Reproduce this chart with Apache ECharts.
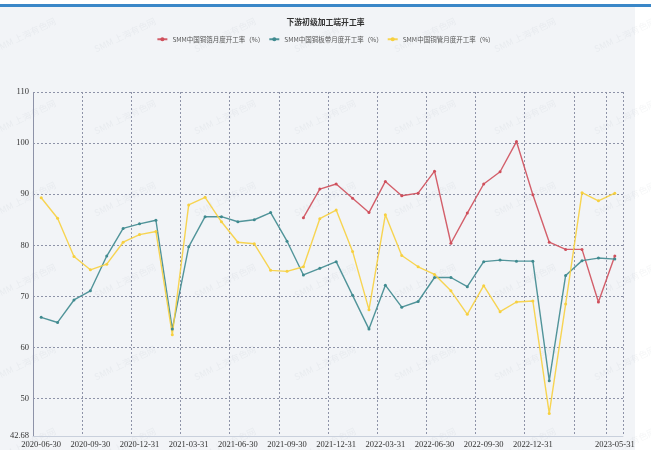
<!DOCTYPE html>
<html>
<head>
<meta charset="utf-8">
<script src="https://cdn.jsdelivr.net/npm/echarts@6/dist/echarts.min.js"></script>
<style>
  html, body { margin: 0; padding: 0; background: #ffffff; }
  #panel { position: absolute; left: 0; top: 7px; width: 635px; height: 443px; background: #f2f4f7; }
  #bar { position: absolute; left: 0; top: 4px; width: 651px; height: 3px; background: #3a87c8; }
  #chart { position: absolute; left: 0; top: 0; width: 651px; height: 450px; }
</style>
</head>
<body>
<div id="panel"></div>
<div id="bar"></div>
<div id="chart"></div>
<script>
const dates = [
  '2020-06-30', '2020-07-31', '2020-08-31', '2020-09-30', '2020-10-31', '2020-11-30',
  '2020-12-31', '2021-01-31', '2021-02-28', '2021-03-31', '2021-04-30', '2021-05-31',
  '2021-06-30', '2021-07-31', '2021-08-31', '2021-09-30', '2021-10-31', '2021-11-30',
  '2021-12-31', '2022-01-31', '2022-02-28', '2022-03-31', '2022-04-30', '2022-05-31',
  '2022-06-30', '2022-07-31', '2022-08-31', '2022-09-30', '2022-10-31', '2022-11-30',
  '2022-12-31', '2023-01-31', '2023-02-28', '2023-03-31', '2023-04-30', '2023-05-31'
]

const foilRate = [
  null, null, null, null, null, null, null, null, null, null, null, null, null, null, null, null,
  85.4, 91.0, 92.0, 89.2, 86.4, 92.5, 89.7, 90.2, 94.5, 80.4, 86.3, 92.0, 94.4, 100.3,
  89.9, 80.6, 79.2, 79.2, 68.9, 77.9
]

const stripRate = [
  65.9, 64.9, 69.3, 71.1, 77.9, 83.3, 84.2, 84.9, 63.6, 79.7, 85.6, 85.6,
  84.6, 85.0, 86.4, 80.8, 74.2, 75.5, 76.8, 70.2, 63.6, 72.2, 67.9, 69.0,
  73.7, 73.7, 71.9, 76.8, 77.1, 76.9, 76.9, 53.5, 74.1, 77.0, 77.5, 77.3
]

const tubeRate = [
  89.3, 85.3, 77.8, 75.2, 76.3, 80.6, 82.1, 82.7, 62.5, 87.9, 89.4, 84.6,
  80.6, 80.3, 75.1, 74.9, 75.8, 85.2, 86.9, 78.8, 67.4, 86.0, 78.0, 75.8,
  74.3, 71.1, 66.5, 72.1, 67.0, 68.9, 69.1, 47.1, 68.5, 90.3, 88.7, 90.2
]

const seriesNames = ['SMM中国铜箔月度开工率（%）', 'SMM中国铜板带月度开工率（%）', 'SMM中国铜管月度开工率（%）']
const seriesColors = ['#cf4f5b', '#3f8a8f', '#f7d03f']

const yMin = 42.68
const yMax = 110

const chart = echarts.init(document.getElementById('chart'))

// faint watermark, repeated
const watermarks = []
for (let r = 0; r < 6; r++) {
  for (let c = 0; c < 7; c++) {
    watermarks.push({
      type: 'text',
      x: 25 + c * 100,
      y: 35 + r * 82,
      rotation: Math.PI / 7,
      style: {
        text: 'SMM 上海有色网',
        fill: 'rgba(120,125,135,0.07)',
        font: '9px "Noto Sans CJK SC"',
        align: 'center',
        verticalAlign: 'middle'
      },
      silent: true,
      z: -1
    })
  }
}

const tickShown = (index) => index % 3 === 0 || index === dates.length - 1
const labelShown = (index) => (index % 3 === 0 && index < dates.length - 3) || index === dates.length - 1

const gridLine = { color: '#8e93a8', type: [2, 2], width: 1 }

const options = {
  animation: false,
  backgroundColor: 'transparent',
  graphic: watermarks,
  title: {
    text: '下游初级加工端开工率',
    left: 'center',
    top: 13,
    textStyle: { fontSize: 7.8, fontWeight: 'bold', color: '#333', fontFamily: '"Noto Sans CJK SC"' }
  },
  legend: {
    top: 31,
    left: 'center',
    itemWidth: 10,
    itemHeight: 5,
    itemGap: 4,
    textStyle: { fontSize: 6.5, color: '#555', fontFamily: '"Noto Sans CJK SC"' },
    data: seriesNames
  },
  grid: { left: 33, right: 28, top: 92, bottom: 14, containLabel: false },
  xAxis: {
    type: 'category',
    data: dates,
    boundaryGap: true,
    axisLine: { lineStyle: { color: '#c9d0dc', width: 1 } },
    axisTick: { show: false },
    axisLabel: {
      interval: labelShown,
      fontSize: 8.5,
      color: '#333',
      margin: 4,
      fontFamily: '"Liberation Sans Narrow"'
    },
    splitLine: { show: true, interval: tickShown, lineStyle: gridLine }
  },
  yAxis: {
    type: 'value',
    min: yMin,
    max: yMax,
    axisLine: { show: true, lineStyle: gridLine },
    axisTick: { show: false },
    axisLabel: { fontSize: 8.5, color: '#333', margin: 4, fontFamily: '"Liberation Sans Narrow"' },
    splitLine: { show: true, lineStyle: gridLine }
  },
  series: [foilRate, stripRate, tubeRate].map((values, i) => ({
    name: seriesNames[i],
    type: 'line',
    data: values,
    symbol: 'circle',
    symbolSize: 3,
    showSymbol: true,
    connectNulls: false,
    itemStyle: { color: seriesColors[i] },
    lineStyle: { width: 1.4, color: seriesColors[i], opacity: 0.9 }
  }))
}

chart.setOption(options)
</script>
</body>
</html>
